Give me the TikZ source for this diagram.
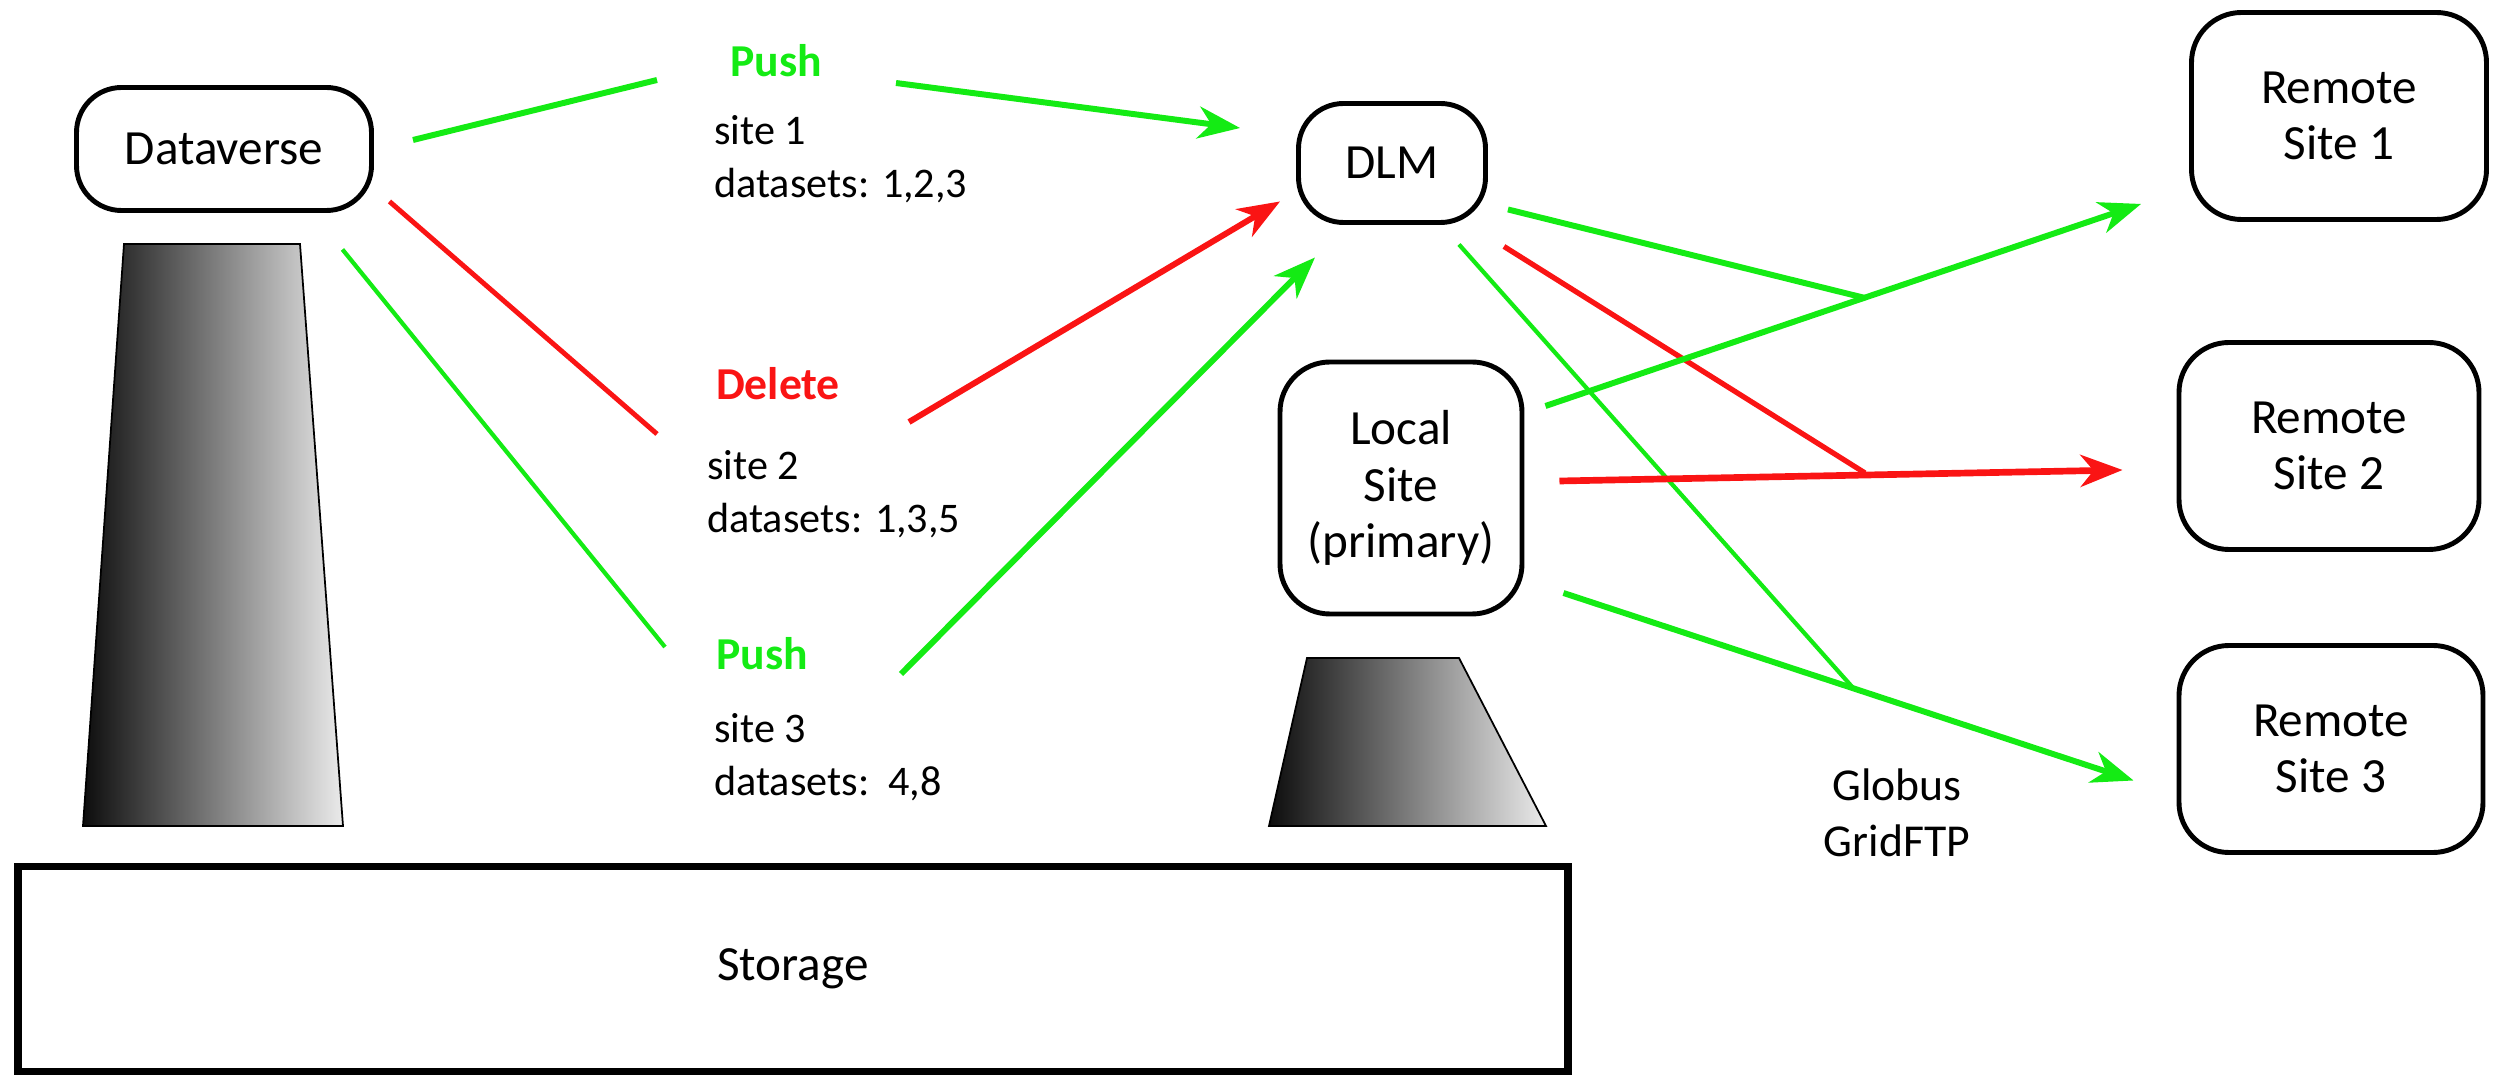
\documentclass[tikz,border=0pt]{standalone}
\usepackage{fontspec}
\setmainfont{Carlito}
\usepackage{xcolor}
\usetikzlibrary{positioning,arrows.meta}

\definecolor{pushgreen}{RGB}{20,235,20}
\definecolor{delred}{RGB}{250,20,20}

\begin{document}
\begin{tikzpicture}[
    >={Stealth[length=4.2mm,width=3.2mm,inset=1.3mm]},
    thick
]

\tikzstyle{site}=[
    draw,
    rounded corners=0.45cm,
    line width=1.4pt,
    inner sep=0pt,
    align=center,
    font=\fontsize{14}{16}\selectfont
]
\tikzstyle{note}=[anchor=west, inner sep=0pt, align=left, font=\fontsize{12}{15}\selectfont]
\tikzstyle{op}=[inner sep=0pt, font=\bfseries\fontsize{13}{15}\selectfont]
\tikzstyle{push}=[draw=pushgreen, line width=1.7pt]
\tikzstyle{del}=[draw=delred, line width=1.7pt]
\tikzstyle{disk}=[draw=black, line width=0.5pt, left color=black!95, right color=black!8]

\useasboundingbox (0,0) rectangle (24.99,10.76);

% storage and the two disks on it
\node[draw, line width=2pt, minimum width=15.5cm, minimum height=2.05cm, inner sep=0pt,
      font=\fontsize{14}{16}\selectfont] (store) at (7.93,1.07) {Storage};
\shade[disk] (0.83,2.50) -- (1.24,8.32) -- (3.00,8.32) -- (3.43,2.50) -- cycle;
\shade[disk] (12.69,2.50) -- (13.07,4.18) -- (14.59,4.18) -- (15.46,2.50) -- cycle;

\node[site, minimum width=2.95cm, minimum height=1.23cm] (dv) at (2.24,9.27) {Dataverse};
\node[site, minimum width=1.87cm, minimum height=1.19cm] (dlm) at (13.92,9.13) {DLM};
\node[site, rounded corners=0.5cm, minimum width=2.42cm, minimum height=2.52cm] (loc) at (14.01,5.88) {Local\\Site\\(primary)};

\node[site, rounded corners=0.5cm, minimum width=2.95cm, minimum height=2.07cm] (r1) at (23.39,9.60) {Remote\\Site 1};
\node[site, rounded corners=0.5cm, minimum width=3.0cm, minimum height=2.07cm] (r2) at (23.29,6.30) {Remote\\Site 2};
\node[site, rounded corners=0.5cm, minimum width=3.04cm, minimum height=2.07cm] (r3) at (23.31,3.27) {Remote\\Site 3};

% requests from dataverse
\node[op, text=pushgreen] (push1) at (7.76,10.15) {Push};
\node[note] (set1) at (7.13,9.17) {site 1\\datasets: 1,2,3};
\node[op, text=delred] (del2) at (7.78,6.92) {Delete};
\node[note] (set2) at (7.06,5.82) {site 2\\datasets: 1,3,5};
\node[op, text=pushgreen] (push3) at (7.62,4.22) {Push};
\node[note] (set3) at (7.13,3.19) {site 3\\datasets:\ \ 4,8};

\node[align=center, inner sep=0pt, font=\fontsize{13}{16}\selectfont] (gftp) at (18.97,2.63) {Globus\\GridFTP};

\coordinate (p1a) at (6.57,9.96);
\coordinate (p1b) at (8.96,9.93);
\coordinate (d2a) at (6.57,6.42);
\coordinate (d2b) at (9.09,6.54);
\coordinate (p3a) at (6.65,4.29);
\coordinate (p3b) at (9.01,4.02);
\coordinate (j1) at (18.65,7.78);
\coordinate (j2) at (18.65,6.03);
\coordinate (j3) at (18.54,3.87);

\draw[push] ([shift={(0.39,0.09)}]dv.east) -- (p1a);
\draw[push,->] (p1b) -- ([shift={(-0.56,0.35)}]dlm.west);
\draw[del, line width=1.4pt] ([shift={(0.155,0.115)}]dv.south east) -- (d2a);
\draw[del,->] (d2b) -- ([shift={(-0.16,0.235)}]dlm.south west);
\draw[push, line width=1.2pt] ([shift={(-0.315,-0.365)}]dv.south east) -- (p3a);
\draw[push,->] (p3b) -- ([shift={(-0.77,-0.325)}]dlm.south);

% transfers through globus
\draw[push] ([shift={(0.20,0.155)}]dlm.south east) -- (j1);
\draw[del, line width=1.5pt] ([shift={(0.16,-0.215)}]dlm.south east) -- (j2);
\draw[push, line width=1.2pt] ([shift={(-0.29,-0.195)}]dlm.south east) -- (j3);

\draw[push,->] ([shift={(0.21,0.82)}]loc.east) -- ([shift={(-0.48,0.18)}]r1.south west);
\draw[del,->, line width=1.9pt] ([shift={(0.35,0.07)}]loc.east) -- ([shift={(-0.54,-0.24)}]r2.west);
\draw[push,->] ([shift={(0.39,-1.05)}]loc.east) -- ([shift={(-0.43,-0.315)}]r3.west);

\end{tikzpicture}
\end{document}
